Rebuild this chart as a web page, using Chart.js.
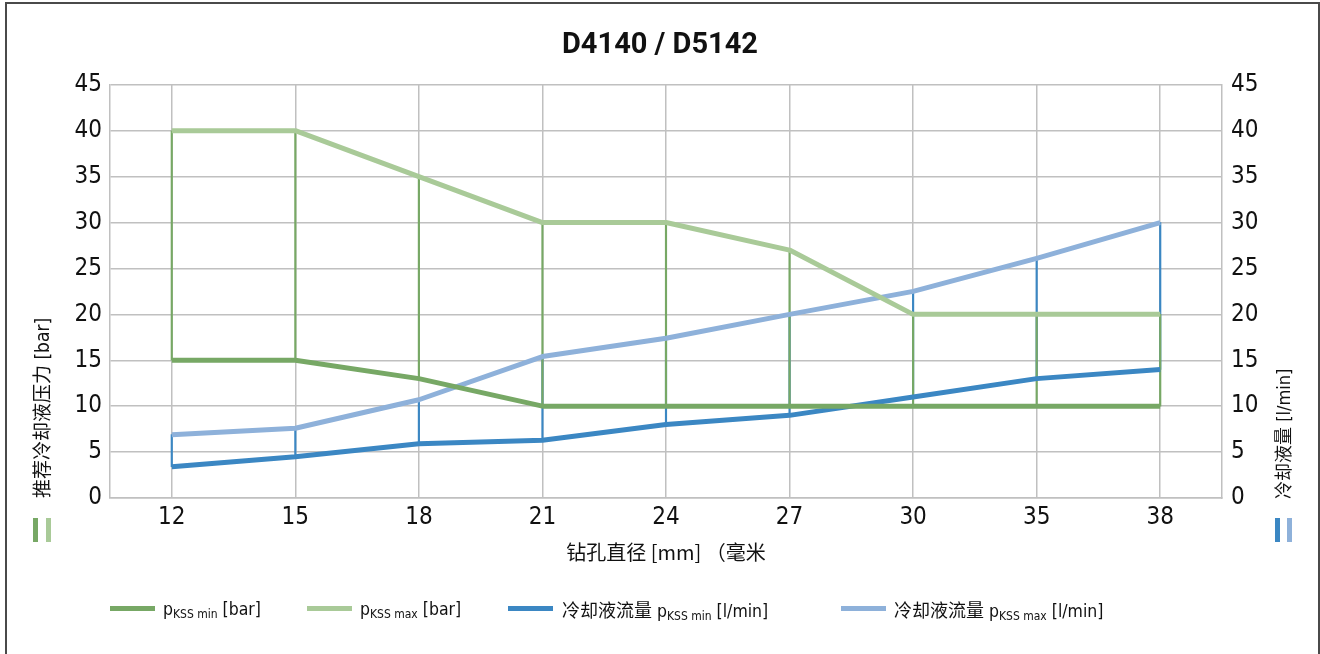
<!DOCTYPE html>
<html>
<head>
<meta charset="utf-8">
<script src="https://cdn.jsdelivr.net/npm/chart.js@4"></script>
<style>
  html, body { margin: 0; padding: 0; background: #fff; overflow: hidden; }
  #wrap { position: relative; width: 1320px; height: 654px; }
  #frame { position: absolute; left: 5px; top: 2px; width: 1315px; height: 700px; box-sizing: border-box; border: 2px solid #4a4a4a; }
  #graphique { position: absolute; left: 0; top: 0; }
  .vtitle { position: absolute; white-space: nowrap; transform: rotate(-90deg); transform-origin: left top;
            font-family: 'Liberation Sans Narrow', 'DejaVu Sans Condensed', 'Noto Sans CJK SC', sans-serif; font-size: 19px; line-height: 20px; color: #111; }
  .vtitle .cjk { font-family: 'Noto Sans CJK SC', sans-serif; }
  .marque { position: absolute; top: 518px; width: 5px; height: 24px; }
  .legende { position: absolute; top: 596px; height: 26px; white-space: nowrap;
             font-family: 'Liberation Sans Narrow', 'DejaVu Sans Condensed', 'Noto Sans CJK SC', sans-serif; color: #111; }
  .legende .trait { position: absolute; top: 10px; height: 5px; width: 45px; }
  .legende .texte { position: absolute; top: 0; font-size: 17.5px; line-height: 26px; }
  .legende sub { font-size: 12px; vertical-align: -3px; }
  .legende .cjk { font-family: 'Noto Sans CJK SC', sans-serif; font-size: 18px; }
</style>
</head>
<body>
<div id="wrap">
  <div id="frame"></div>
  <canvas id="graphique" width="1320" height="654"></canvas>

  <div class="vtitle" style="left:31px; top:498px;"><span class="cjk">推荐冷却液压力</span> [bar]</div>
  <div class="marque" style="left:33px; background:#77a865;"></div>
  <div class="marque" style="left:46px; background:#a9ca98;"></div>

  <div class="vtitle" style="left:1272px; top:499px; font-size:18px;"><span class="cjk">冷却液量</span> [l/min]</div>
  <div class="marque" style="left:1275px; background:#3b87c3;"></div>
  <div class="marque" style="left:1287px; background:#8eb1da;"></div>

  <div class="legende" style="left:110px;">
    <div class="trait" style="left:0; background:#77a865;"></div>
    <div class="texte" style="left:53px;">p<sub>KSS min</sub> [bar]</div>
  </div>
  <div class="legende" style="left:307px;">
    <div class="trait" style="left:0; background:#a9ca98;"></div>
    <div class="texte" style="left:53px;">p<sub>KSS max</sub> [bar]</div>
  </div>
  <div class="legende" style="left:508px;">
    <div class="trait" style="left:0; background:#3b87c3;"></div>
    <div class="texte" style="left:54px;"><span class="cjk">冷却液流量</span> p<sub>KSS min</sub> [l/min]</div>
  </div>
  <div class="legende" style="left:841px;">
    <div class="trait" style="left:0; background:#8eb1da;"></div>
    <div class="texte" style="left:53px;"><span class="cjk">冷却液流量</span> p<sub>KSS max</sub> [l/min]</div>
  </div>
</div>

<script>
// Diamètres de perçage (axe x)
const diametres = ["12", "15", "18", "21", "24", "27", "30", "35", "38"];

// Pression recommandée du liquide de refroidissement [bar]
const pressionMin = [15, 15, 13, 10, 10, 10, 10, 10, 10];
const pressionMax = [40, 40, 35, 30, 30, 27, 20, 20, 20];

// Débit du liquide de refroidissement [l/min]
const debitMin = [3.4, 4.5, 5.9, 6.3, 8.0, 9.0, 11.0, 13.0, 14.0];
const debitMax = [6.9, 7.6, 10.7, 15.4, 17.4, 20.0, 22.5, 26.1, 30.0];

// Graduations des deux axes y
const graduationMax = 45;
const graduationPas = 5;

const vertFonce = "#77a865";
const vertClair = "#a9ca98";
const bleuFonce = "#3b87c3";
const bleuClair = "#8eb1da";
const grille = "#c0c0c0";
const policeTicks = "'Liberation Sans Narrow', 'DejaVu Sans Condensed', sans-serif";

// Lignes verticales entre min et max
const ecartPression = pressionMin.map((v, i) => [v, pressionMax[i]]);
const ecartDebit = debitMin.map((v, i) => [v, debitMax[i]]);

function ligne(label, data, couleur, axe) {
    return {
        type: "line",
        label: label,
        data: data,
        yAxisID: axe,
        borderColor: couleur,
        backgroundColor: couleur,
        borderWidth: 5,
        pointRadius: 0,
        tension: 0,
        borderJoinStyle: "round",
        order: 1
    };
}

function ecart(label, data, couleur, axe) {
    return {
        type: "bar",
        label: label,
        data: data,
        yAxisID: axe,
        backgroundColor: couleur,
        borderWidth: 0,
        barThickness: 1.5,
        grouped: false,
        order: 10
    };
}

const data = {
    labels: diametres,
    datasets: [
        ligne("pKSS min [bar]", pressionMin, vertFonce, "y"),
        ligne("pKSS max [bar]", pressionMax, vertClair, "y"),
        ligne("冷却液流量 pKSS min [l/min]", debitMin, bleuFonce, "y1"),
        ligne("冷却液流量 pKSS max [l/min]", debitMax, bleuClair, "y1"),
        ecart("pression", ecartPression, vertFonce, "y"),
        ecart("debit", ecartDebit, bleuFonce, "y1")
    ]
};

const config = {
    type: "line",
    data: data,
    options: {
        responsive: false,
        animation: false,
        devicePixelRatio: 1,
        layout: { padding: { left: 0, right: 0, top: 0, bottom: 76 } },
        plugins: {
            legend: { display: false },
            tooltip: { enabled: false },
            title: {
                display: true,
                text: "D4140 / D5142",
                color: "#111",
                font: { family: "Roboto, 'DejaVu Sans', sans-serif", size: 29, weight: "bold", lineHeight: 1.2 },
                padding: { top: 28, bottom: 22 }
            }
        },
        scales: {
            x: {
                type: "category",
                offset: true,
                grid: { offset: false, color: grille, lineWidth: 1.5, drawTicks: false },
                border: { display: true, color: grille, width: 1.5 },
                ticks: { color: "#111", padding: 5, font: { family: policeTicks, size: 24 } },
                title: {
                    display: true,
                    text: "钻孔直径 [mm] （毫米",
                    color: "#111",
                    font: { family: "'Liberation Sans Narrow', 'Noto Sans CJK SC', sans-serif", size: 20 },
                    padding: { top: 0, bottom: 14 }
                },
                afterFit: (scale) => { scale.height = 80; }
            },
            y: {
                position: "left",
                min: 0,
                max: graduationMax,
                grid: { color: grille, lineWidth: 1.5, drawTicks: false },
                border: { display: true, color: grille, width: 1.5 },
                ticks: { stepSize: graduationPas, color: "#111", padding: 8, font: { family: policeTicks, size: 24 } },
                afterFit: (scale) => { scale.width = 110; }
            },
            y1: {
                position: "right",
                min: 0,
                max: graduationMax,
                grid: { display: false, drawTicks: false },
                border: { display: true, color: grille, width: 1.5 },
                ticks: { stepSize: graduationPas, color: "#111", padding: 9, font: { family: policeTicks, size: 24 } },
                afterFit: (scale) => { scale.width = 98; }
            }
        }
    }
};

new Chart(document.querySelector("#graphique"), config);
</script>
</body>
</html>
